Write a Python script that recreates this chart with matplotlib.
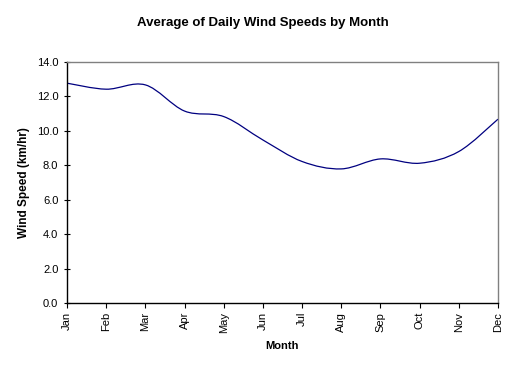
import matplotlib

matplotlib.use("Agg")
import matplotlib.pyplot as plt
import numpy as np
from matplotlib.patches import PathPatch
from matplotlib.path import Path

plt.rcParams["font.family"] = ["Liberation Sans", "DejaVu Sans"]

months = ["Jan", "Feb", "Mar", "Apr", "May", "Jun",
          "Jul", "Aug", "Sep", "Oct", "Nov", "Dec"]
wind_speed = [12.77, 12.42, 12.67, 11.15, 10.83, 9.47,
              8.22, 7.79, 8.37, 8.12, 8.8, 10.68]
y_ticks = [0, 2, 4, 6, 8, 10, 12, 14]


def smooth_path(xs, ys):
    """Excel-style smoothed line: cubic Bezier segments with
    Catmull-Rom control points (tension 1/6)."""
    pts = np.column_stack([xs, ys]).astype(float)
    n = len(pts)
    verts = [pts[0]]
    codes = [Path.MOVETO]
    for i in range(n - 1):
        p0 = pts[max(i - 1, 0)]
        p1 = pts[i]
        p2 = pts[i + 1]
        p3 = pts[min(i + 2, n - 1)]
        c1 = p1 + (p2 - p0) / 6
        c2 = p2 - (p3 - p1) / 6
        verts += [c1, c2, p2]
        codes += [Path.CURVE4] * 3
    return Path(verts, codes)


fig = plt.figure(figsize=(5.25, 3.70), dpi=100)
ax = fig.add_axes([67 / 525, 67 / 370, 431 / 525, 241 / 370])

x = np.arange(len(months))
ax.add_patch(PathPatch(smooth_path(x, wind_speed), facecolor="none",
                       edgecolor="#000080", linewidth=0.9))

ax.set_xlim(0, len(months) - 1)
ax.set_ylim(0, 14)
ax.set_xticks(x)
ax.set_xticklabels(months, rotation=90, fontsize=8)
ax.set_yticks(y_ticks)
ax.set_yticklabels([f"{v:.1f}" for v in y_ticks], fontsize=8)
ax.tick_params(axis="x", direction="out", length=3.5, width=0.8,
               color="black", pad=3)
ax.tick_params(axis="y", direction="inout", length=4.5, width=0.8,
               color="black", pad=4)

for side in ("top", "right"):
    ax.spines[side].set_color("#808080")
    ax.spines[side].set_linewidth(1.0)
for side in ("left", "bottom"):
    ax.spines[side].set_color("black")
    ax.spines[side].set_linewidth(1.0)

ax.set_xlabel("Month", fontsize=8, fontweight="bold", labelpad=6)
ax.set_ylabel("Wind Speed (km/hr)", fontsize=8.5, fontweight="bold", labelpad=5)
fig.text(0.5, 1 - 23 / 370, "Average of Daily Wind Speeds by Month",
         ha="center", va="center", fontsize=9.5, fontweight="bold")

fig.savefig("out.png", dpi=100)
